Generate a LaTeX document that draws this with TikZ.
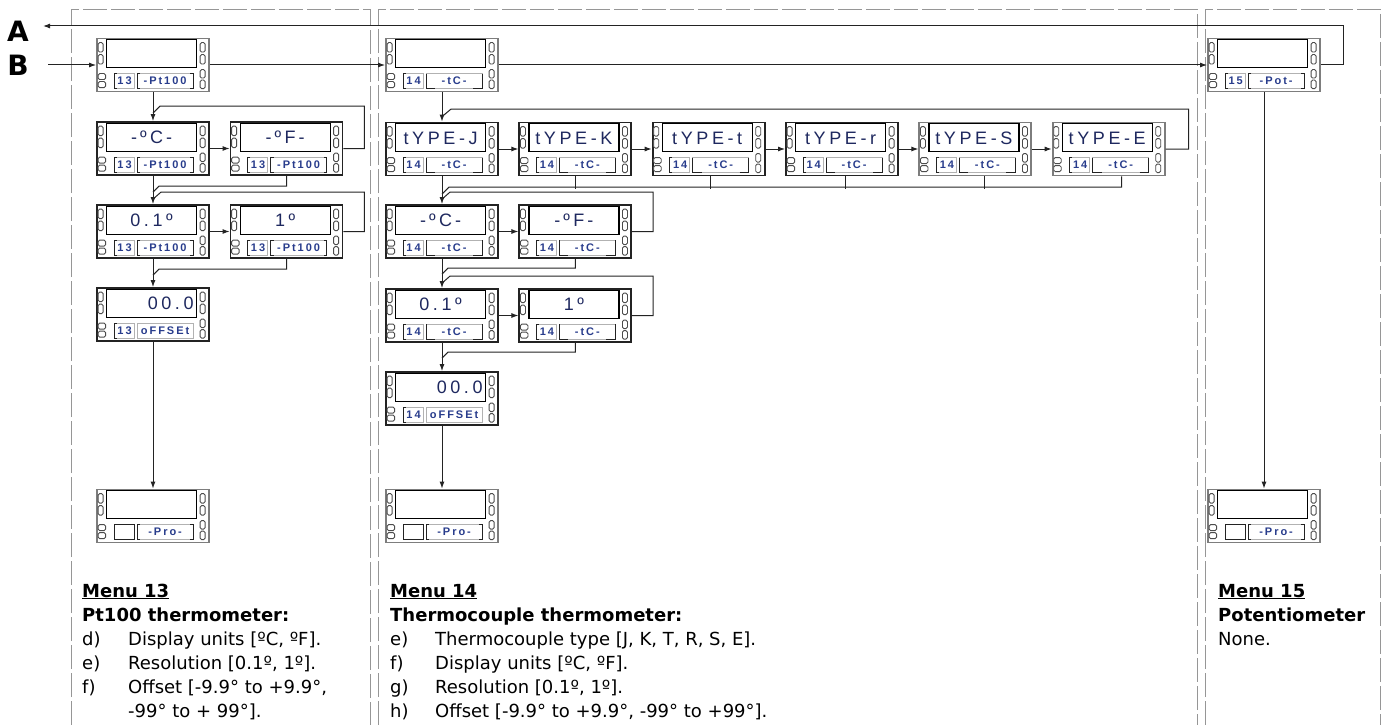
\documentclass[tikz,border=0pt]{standalone}
\usepackage{fontspec}
\setmainfont{DejaVu Sans}
\newfontfamily\dispfont[LetterSpace=20]{Liberation Sans}
\newfontfamily\labfont[LetterSpace=18]{Liberation Sans}
\usetikzlibrary{arrows.meta,calc}
\definecolor{dtxt}{RGB}{30,40,95}
\definecolor{ltxt}{RGB}{40,60,140}
\definecolor{frm}{RGB}{150,150,150}
\definecolor{dk}{RGB}{35,35,35}
\definecolor{dg}{RGB}{125,125,125}
\tikzset{
  devbox/.style={rectangle, minimum width=112, minimum height=53, inner sep=0, line width=1.8, fill=white},
  dispbox/.style={draw=black, line width=1.2, fill=white},
  pill/.style={draw=black!70, line width=0.8, fill=white, rounded corners=1.5},
  lbox/.style={draw=gray!60, line width=0.6},
  dbox/.style={draw=dk, line width=1.1},
  brk/.style={draw=dk, line width=1.1},
  disptxt/.style={font=\dispfont\fontsize{18}{18}\selectfont, text=dtxt, inner sep=0, text width=84},
  labtxt/.style={font=\labfont\fontsize{11}{11}\selectfont\bfseries, text=ltxt, inner sep=0},
  ln/.style={draw=dk, line width=1},
  arr/.style={ln, -{Latex[length=7,width=5]}},
  frame/.style={draw=frm, line width=0.9, dash pattern=on 24 off 4},
  body/.style={anchor=base west, inner sep=0, font=\fontsize{18}{24}\selectfont, text=black},
  big/.style={anchor=base, inner sep=0, font=\fontsize{28}{28}\selectfont\bfseries, text=black}
}
\newcommand\brkSq{\draw[brk] (44,36)--(41,36)--(41,51)--(44,51); \draw[brk] (94,36)--(97,36)--(97,51)--(94,51);}
\newcommand\brkTc{\draw[brk] (41,36)--(41,51)--(50,51); \draw[brk] (88,51)--(97,51)--(97,36);}
\newcommand\brkNo{}
\newcommand\dev[9]{%
 \node[devbox,draw=#6] (#1) at (#2) {};
 \begin{scope}[shift={(#1.north west)}]
  \draw[dispbox] (10.5,2) rectangle (100.5,30);
  \node[disptxt,align=#7] (#1-d) at (55.5,16.5) {#3};
  \draw[pill] (2,5) rectangle (7,14.5);
  \draw[pill] (2,17) rectangle (7,26.5);
  \draw[pill] (104,5) rectangle (109,14.5);
  \draw[pill] (104,17) rectangle (109,26.5);
  \draw[pill] (104,32) rectangle (109,40.5);
  \draw[pill] (104,42.5) rectangle (109,51);
  \draw[pill] (2,36) rectangle (9.5,42);
  \draw[pill] (2,44) rectangle (9.5,50);
  \draw[#9] (18,36) rectangle (38,51);
  \draw[brk] (20.5,36)--(18,36)--(18,51)--(20.5,51);
  \node[labtxt] (#1-n) at (28.5,43.5) {#4};
  \draw[lbox] (41,36) rectangle (97,51);
  #8
  \node[labtxt] (#1-l) at (69,43.5) {#5};
 \end{scope}}
\begin{document}
\begin{tikzpicture}[x=1pt,y=-1pt]
\useasboundingbox (0,0) rectangle (1387,725);
% column frames
\draw[frame] (71,725) -- (71,9) -- (370,9) -- (370,725);
\draw[frame] (378,725) -- (378,9) -- (1197,9) -- (1197,725);
\draw[frame] (1205,725) -- (1205,9) -- (1380,9) -- (1380,725);
% letters
\node[big] (la) at (18,42) {A};
\node[big] (lb) at (18,75) {B};
\coordinate (aend) at (43,26);
\coordinate (bstart) at (48,65);
% devices column 13
\dev{d13}{153,65}{}{13}{-Pt100}{dg}{center}{\brkSq}{lbox}
\dev{c13}{153,148.5}{-\,ºC\,-}{13}{-Pt100}{dk}{center}{\brkSq}{lbox}
\dev{f13}{286.5,148.5}{-\,ºF\,-}{13}{-Pt100}{dk}{center}{\brkSq}{lbox}
\dev{r13}{153,231.5}{0.1º}{13}{-Pt100}{dk}{center}{\brkSq}{lbox}
\dev{s13}{286.5,231.5}{1º}{13}{-Pt100}{dk}{center}{\brkSq}{lbox}
\dev{o13}{153,314.5}{00.0}{13}{oFFSEt}{dk}{right}{\brkNo}{lbox}
\dev{p13}{153,516}{}{}{-Pro-}{dg}{center}{\brkSq}{dbox}
% devices column 14
\dev{d14}{442,65}{}{14}{-tC-}{dg}{center}{\brkTc}{lbox}
\dev{tj}{442,149}{tYPE-J}{14}{-tC-}{dk}{center}{\brkTc}{lbox}
\dev{tk}{575.3,149}{tYPE-K}{14}{-tC-}{dk}{center}{\brkTc}{lbox}
\dev{tt}{708.6,149}{tYPE-t}{14}{-tC-}{dk}{center}{\brkTc}{lbox}
\dev{tr}{842,149}{tYPE-r}{14}{-tC-}{dk}{center}{\brkTc}{lbox}
\dev{ts}{975.3,149}{tYPE-S}{14}{-tC-}{dg}{center}{\brkTc}{lbox}
\dev{te}{1108.6,149}{tYPE-E}{14}{-tC-}{dg}{center}{\brkTc}{lbox}
\dev{c14}{442,231.5}{-\,ºC\,-}{14}{-tC-}{dk}{center}{\brkTc}{lbox}
\dev{f14}{575.3,231.5}{-\,ºF\,-}{14}{-tC-}{dk}{center}{\brkTc}{lbox}
\dev{r14}{442,315.5}{0.1º}{14}{-tC-}{dk}{center}{\brkTc}{lbox}
\dev{s14}{575.3,315.5}{1º}{14}{-tC-}{dk}{center}{\brkTc}{lbox}
\dev{o14}{442,398.5}{00.0}{14}{oFFSEt}{dk}{right}{\brkNo}{lbox}
\dev{p14}{442,516}{}{}{-Pro-}{dg}{center}{\brkSq}{dbox}
% devices column 15
\dev{d15}{1264,65}{}{15}{-Pot-}{dg}{center}{\brkSq}{lbox}
\dev{p15}{1264,516}{}{}{-Pro-}{dg}{center}{\brkSq}{dbox}
% A and B lines
\draw[arr] (d15.east) -- ++(23,0) -- ++(0,-39) -- (aend);
\draw[arr] (bstart) -- (d13.west);
\draw[arr] (d13.east) -- (d14.west);
\draw[arr] (d14.east) -- (d15.west);
% column 13 connectors
\draw[arr] (d13.south) -- (c13.north);
\draw[ln] (f13.east) -- ++(21,0) |- ($(c13.north)+(7,-15)$) -- ($(c13.north)+(0,-8)$);
\draw[arr] (c13.east) -- (f13.west);
\draw[arr] (c13.south) -- (r13.north);
\draw[ln] (f13.south) |- ($(r13.north)+(6,-18)$) -- ($(r13.north)+(0,-12)$);
\draw[ln] (s13.east) -- ++(21,0) |- ($(r13.north)+(8,-12)$) -- ($(r13.north)+(0,-5)$);
\draw[arr] (r13.east) -- (s13.west);
\draw[arr] (r13.south) -- (o13.north);
\draw[ln] (s13.south) |- ($(o13.north)+(6,-18)$) -- ($(o13.north)+(0,-12)$);
\draw[arr] (o13.south) -- (p13.north);
% column 14 connectors
\draw[arr] (d14.south) -- (tj.north);
\draw[ln] (te.east) -- ++(23,0) |- ($(tj.north)+(9,-12.5)$) -- ($(tj.north)+(0,-5)$);
\draw[arr] (tj.east) -- (tk.west);
\draw[arr] (tk.east) -- (tt.west);
\draw[arr] (tt.east) -- (tr.west);
\draw[arr] (tr.east) -- (ts.west);
\draw[arr] (ts.east) -- (te.west);
\draw[ln] ($(te.south)+(13,0)$) |- ($(c14.north)+(7,-17)$) -- ($(c14.north)+(0,-10)$);
\draw[ln] (tk.south) -- ++(0,12.5);
\draw[ln] ($(tt.south)+(1.5,0)$) -- ++(0,12.5);
\draw[ln] ($(tr.south)+(3,0)$) -- ++(0,12.5);
\draw[ln] ($(ts.south)+(9,0)$) -- ++(0,12.5);
\draw[arr] (tj.south) -- (c14.north);
\draw[ln] (f14.east) -- ++(21,0) |- ($(c14.north)+(8,-12)$) -- ($(c14.north)+(0,-5)$);
\draw[arr] (c14.east) -- (f14.west);
\draw[arr] (c14.south) -- (r14.north);
\draw[ln] (f14.south) |- ($(r14.north)+(6,-20)$) -- ($(r14.north)+(0,-14)$);
\draw[ln] (s14.east) -- ++(21,0) |- ($(r14.north)+(8,-12)$) -- ($(r14.north)+(0,-5)$);
\draw[arr] (r14.east) -- (s14.west);
\draw[arr] (r14.south) -- (o14.north);
\draw[ln] (s14.south) |- ($(o14.north)+(6,-19)$) -- ($(o14.north)+(0,-13)$);
\draw[arr] (o14.south) -- (p14.north);
% column 15
\draw[arr] (d15.south) -- (p15.north);
% texts column 13
\node[body] (m13) at (82,597) {\bfseries\underline{Menu 13}};
\node[body] (h13) at (82,621) {\bfseries Pt100 thermometer:};
\node[body] (k13a) at (82,645) {d)};
\node[body] (x13a) at (128,645) {Display units [ºC, ºF].};
\node[body] (k13b) at (82,669) {e)};
\node[body] (x13b) at (128,669) {Resolution [0.1º, 1º].};
\node[body] (k13c) at (82,693) {f)};
\node[body] (x13c) at (128,693) {Offset [-9.9° to +9.9°,};
\node[body] (x13d) at (128,717) {-99° to + 99°].};
% texts column 14
\node[body] (m14) at (390,597) {\bfseries\underline{Menu 14}};
\node[body] (h14) at (390,621) {\bfseries Thermocouple thermometer:};
\node[body] (k14a) at (390,645) {e)};
\node[body] (x14a) at (435,645) {Thermocouple type [J, K, T, R, S, E].};
\node[body] (k14b) at (390,669) {f)};
\node[body] (x14b) at (435,669) {Display units [ºC, ºF].};
\node[body] (k14c) at (390,693) {g)};
\node[body] (x14c) at (435,693) {Resolution [0.1º, 1º].};
\node[body] (k14d) at (390,717) {h)};
\node[body] (x14d) at (435,717) {Offset [-9.9° to +9.9°, -99° to +99°].};
% texts column 15
\node[body] (m15) at (1218,597) {\bfseries\underline{Menu 15}};
\node[body] (h15) at (1218,621) {\bfseries Potentiometer};
\node[body] (x15) at (1218,645) {None.};
\end{tikzpicture}
\end{document}
